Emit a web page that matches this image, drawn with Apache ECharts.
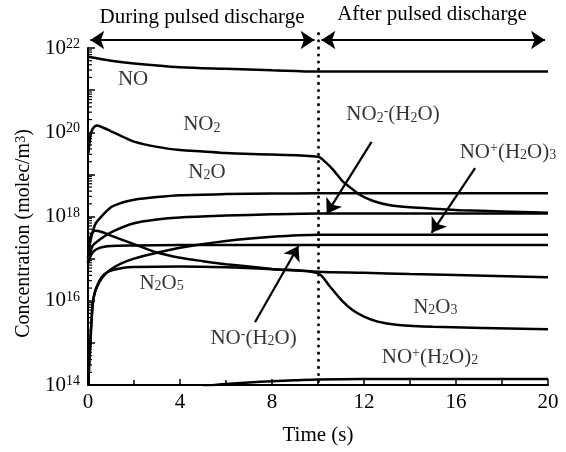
<!DOCTYPE html>
<html>
<head>
<meta charset="utf-8">
<script src="https://cdn.jsdelivr.net/npm/echarts@6/dist/echarts.min.js"></script>
<style>
  html, body { margin: 0; padding: 0; background: #fff; }
  #chart { width: 566px; height: 452px; }
</style>
</head>
<body>
<div id="chart"></div>
<script>
// Species concentrations (molec/m^3) versus time (s)
const tNO = [0, 1, 2, 4, 6, 8, 10, 12, 16, 20];
const cNO = [6.2e21, 5.0e21, 4.3e21, 3.5e21, 3.2e21, 2.95e21, 2.75e21, 2.75e21, 2.75e21, 2.75e21];

const tNO2 = [0.02, 0.1, 0.2, 0.4, 0.7, 1, 1.5, 2, 3, 4, 5, 6, 8, 10, 10.35, 10.67, 11.1, 11.54, 11.83, 12.4, 13.13, 14, 15.3, 16.2, 18, 20];
const cNO2 = [3.2e19, 7.9e19, 1.2e20, 1.45e20, 1.26e20, 1.05e20, 7.9e19, 6.0e19, 4.5e19, 3.8e19, 3.5e19, 3.2e19, 2.95e19, 2.63e19, 1.9e19, 1.26e19, 6.6e18, 4.27e18, 3.24e18, 2.34e18, 1.86e18, 1.66e18, 1.51e18, 1.41e18, 1.32e18, 1.22e18];

const tN2O = [0, 0.1, 0.3, 0.5, 1, 1.5, 2, 3, 4, 6, 8, 10, 20];
const cN2O = [7.9e16, 2.5e17, 6.3e17, 8.9e17, 1.66e18, 2.15e18, 2.5e18, 2.9e18, 3.2e18, 3.4e18, 3.5e18, 3.55e18, 3.55e18];

const tNO2H2O = [0, 0.2, 0.5, 1, 2, 3, 4, 6, 8, 10, 20];
const cNO2H2O = [7.9e16, 2.0e17, 2.8e17, 4.2e17, 6.9e17, 8.5e17, 9.5e17, 1.05e18, 1.13e18, 1.18e18, 1.18e18];

const tNOmH2O = [0, 0.2, 0.5, 1, 2, 4, 10, 20];
const cNOmH2O = [7.9e16, 1.4e17, 1.8e17, 2.0e17, 2.05e17, 2.1e17, 2.1e17, 2.1e17];

const tN2O3 = [0, 0.1, 0.3, 0.6, 1, 2, 3, 4, 5, 6, 8, 10, 10.5, 11.03, 11.5, 12, 12.6, 13.4, 15, 20];
const cN2O3 = [1.0e17, 3.2e17, 4.6e17, 4.3e17, 3.5e17, 2.2e17, 1.4e17, 1.05e17, 8.7e16, 7.4e16, 5.7e16, 4.47e16, 2.24e16, 1.02e16, 6.0e15, 4.2e15, 3.2e15, 2.7e15, 2.4e15, 2.1e15];

const tN2O5 = [0.02, 0.05, 0.1, 0.2, 0.3, 0.5, 0.7, 1, 1.5, 2, 4, 6, 8, 10, 12, 14, 16, 20];
const cN2O5 = [1.0e14, 3.2e14, 1.0e15, 7.9e15, 1.6e16, 3.0e16, 4.2e16, 5.2e16, 6.0e16, 6.3e16, 6.5e16, 6.2e16, 5.6e16, 4.9e16, 4.6e16, 4.3e16, 4.1e16, 3.6e16];

const tNOpH2O3 = [0.02, 0.05, 0.1, 0.2, 0.3, 0.5, 0.7, 1, 1.5, 2, 3, 4, 6, 8, 10, 20];
const cNOpH2O3 = [1.0e14, 3.2e14, 1.0e15, 7.9e15, 1.6e16, 2.8e16, 4.0e16, 5.6e16, 7.9e16, 1.0e17, 1.38e17, 1.82e17, 2.63e17, 3.3e17, 3.7e17, 3.7e17];

const tNOpH2O2 = [5, 6, 7, 8, 9, 10, 12, 20];
const cNOpH2O2 = [9.3e13, 1.05e14, 1.15e14, 1.23e14, 1.29e14, 1.35e14, 1.38e14, 1.38e14];

// Species labels: position (s, molec/m^3) and rich-text name
const labelX = [1.96, 4.95, 5.17, 3.2, 7.2, 13.26, 18.26, 15.1, 14.87];
const labelY = [1.75e21, 1.5e20, 1.12e19, 2.6e16, 1.3e15, 2.6e20, 3.4e19, 7.1e15, 4.6e14];
const labelText = [
  'NO',
  'NO{sub|2}',
  'N{sub|2}O',
  'N{sub|2}O{sub|5}',
  'NO{sup|-}(H{sub|2}O)',
  'NO{sub|2}{sup|-}(H{sub|2}O)',
  'NO{sup|+}(H{sub|2}O){sub|3}',
  'N{sub|2}O{sub|3}',
  'NO{sup|+}(H{sub|2}O){sub|2}'
];

// Pointer arrows: [from, to] in data units
const pointerFrom = [[12.33, 5.9e19], [16.83, 1.41e19], [7.26, 3.1e15]];
const pointerTo   = [[10.38, 1.17e18], [14.94, 4.1e17], [9.15, 2.0e17]];

// Phase markers above the plot
const phaseArrowY = 1.55e22;
const dischargeEnd = 10;
const phaseDuring = [0.1, 9.85];
const phaseAfter = [10.15, 19.87];
const dividerTop = 2.2e22;

const FONT = 'Liberation Serif';
const BLACK = '#000';

const richStyles = {
  sub: { fontFamily: FONT, fontSize: 14, lineHeight: 8, verticalAlign: 'bottom', color: BLACK },
  sup: { fontFamily: FONT, fontSize: 14, lineHeight: 8, verticalAlign: 'top', color: BLACK }
};

function pairs(t, c) { return t.map((x, i) => [x, c[i]]); }

const species = [
  [tNO, cNO], [tNO2, cNO2], [tN2O, cN2O], [tNO2H2O, cNO2H2O], [tNOmH2O, cNOmH2O],
  [tN2O3, cN2O3], [tN2O5, cN2O5], [tNOpH2O3, cNOpH2O3], [tNOpH2O2, cNOpH2O2]
];

const curveSeries = species.map(([t, c]) => ({
  type: 'line',
  data: pairs(t, c),
  showSymbol: false,
  smooth: 0.3,
  clip: true,
  lineStyle: { color: BLACK, width: 2.5 },
  z: 3
}));

// log-spaced minor ticks on the concentration axis
const minorTickValues = [];
for (let n = 14; n < 22; n++) {
  for (let k = 2; k <= 9; k++) minorTickValues.push([0, k * Math.pow(10, n)]);
}

const chart = echarts.init(document.getElementById('chart'), null, { renderer: 'canvas' });

chart.setOption({
  animation: false,
  backgroundColor: '#fff',
  grid: { left: 88, right: 18, top: 48, bottom: 67, containLabel: false, outerBoundsMode: 'none' },
  xAxis: {
    type: 'value',
    min: 0, max: 20, interval: 4,
    name: 'Time (s)',
    nameLocation: 'middle',
    nameGap: 40,
    nameTextStyle: { fontFamily: FONT, fontSize: 21, color: BLACK },
    axisLine: { show: true, onZero: false, lineStyle: { color: BLACK, width: 2 } },
    axisTick: { show: true, inside: true, length: 6, lineStyle: { color: BLACK, width: 1.5 } },
    minorTick: { show: true, splitNumber: 2, length: 5, lineStyle: { color: BLACK, width: 1.5 } },
    axisLabel: { fontFamily: FONT, fontSize: 21, color: BLACK, margin: 7 },
    splitLine: { show: false }
  },
  yAxis: {
    type: 'log',
    logBase: 10,
    min: 1e14, max: 1e22,
    interval: 1,
    name: 'Concentration (molec/m{sup|3})',
    nameLocation: 'middle',
    nameRotate: 90,
    nameGap: 51,
    nameTextStyle: {
      fontFamily: FONT, fontSize: 20, color: BLACK, lineHeight: 20,
      padding: [0, 34, 0, 0],
      rich: richStyles
    },
    axisLine: { show: true, onZero: false, lineStyle: { color: BLACK, width: 2 } },
    axisTick: { show: true, inside: true, length: 7, lineStyle: { color: BLACK, width: 1.5 } },
    minorTick: { show: false },
    splitLine: { show: false },
    axisLabel: {
      margin: 8,
      formatter: function (val) {
        const e = Math.round(Math.log10(val));
        return e % 2 === 0 ? '{b|10}{s|' + e + '}' : '';
      },
      rich: {
        b: { fontFamily: FONT, fontSize: 21, lineHeight: 21, color: BLACK, verticalAlign: 'bottom', padding: [4, 0, 0, 0] },
        s: { fontFamily: FONT, fontSize: 14, lineHeight: 8, color: BLACK, verticalAlign: 'top' }
      }
    }
  },
  graphic: [
    {
      type: 'text', x: 202, y: 17,
      style: { text: 'During pulsed discharge', font: '21px "Liberation Serif"', fill: BLACK, align: 'center', verticalAlign: 'middle' }
    },
    {
      type: 'text', x: 432, y: 14,
      style: { text: 'After pulsed discharge', font: '21px "Liberation Serif"', fill: BLACK, align: 'center', verticalAlign: 'middle' }
    }
  ],
  series: [
    ...curveSeries,
    {
      // minor log ticks drawn inward from the concentration axis
      type: 'custom',
      data: minorTickValues,
      clip: false,
      silent: true,
      renderItem: function (params, api) {
        const p = api.coord([0, api.value(1)]);
        return {
          type: 'line',
          shape: { x1: p[0], y1: p[1], x2: p[0] + 4, y2: p[1] },
          style: { stroke: BLACK, lineWidth: 1.2 }
        };
      },
      z: 4
    },
    {
      type: 'scatter',
      symbolSize: 0,
      clip: false,
      silent: true,
      data: labelX.map((x, i) => ({ value: [x, labelY[i]], name: labelText[i] })),
      label: {
        show: true,
        position: 'inside',
        formatter: p => p.name,
        fontFamily: FONT, fontSize: 21, lineHeight: 21, color: BLACK,
        rich: richStyles
      },
      z: 5
    },
    {
      type: 'lines',
      coordinateSystem: 'cartesian2d',
      clip: false,
      silent: true,
      symbol: ['none', 'arrow'],
      symbolSize: 14,
      lineStyle: { color: BLACK, width: 2.2, opacity: 1, curveness: 0 },
      data: pointerFrom.map((f, i) => ({ coords: [f, pointerTo[i]] })),
      z: 6
    },
    {
      type: 'lines',
      coordinateSystem: 'cartesian2d',
      clip: false,
      silent: true,
      symbol: ['arrow', 'arrow'],
      symbolSize: 14,
      lineStyle: { color: BLACK, width: 2.2, opacity: 1, curveness: 0 },
      data: [
        { coords: [[phaseDuring[0], phaseArrowY], [phaseDuring[1], phaseArrowY]] },
        { coords: [[phaseAfter[0], phaseArrowY], [phaseAfter[1], phaseArrowY]] }
      ],
      z: 6
    },
    {
      type: 'lines',
      coordinateSystem: 'cartesian2d',
      clip: false,
      silent: true,
      symbol: ['none', 'none'],
      lineStyle: { color: BLACK, width: 3, opacity: 1, type: [0.1, 7], cap: 'round' },
      data: [{ coords: [[dischargeEnd, dividerTop], [dischargeEnd, 1e14]] }],
      z: 2
    }
  ]
});
</script>
</body>
</html>
